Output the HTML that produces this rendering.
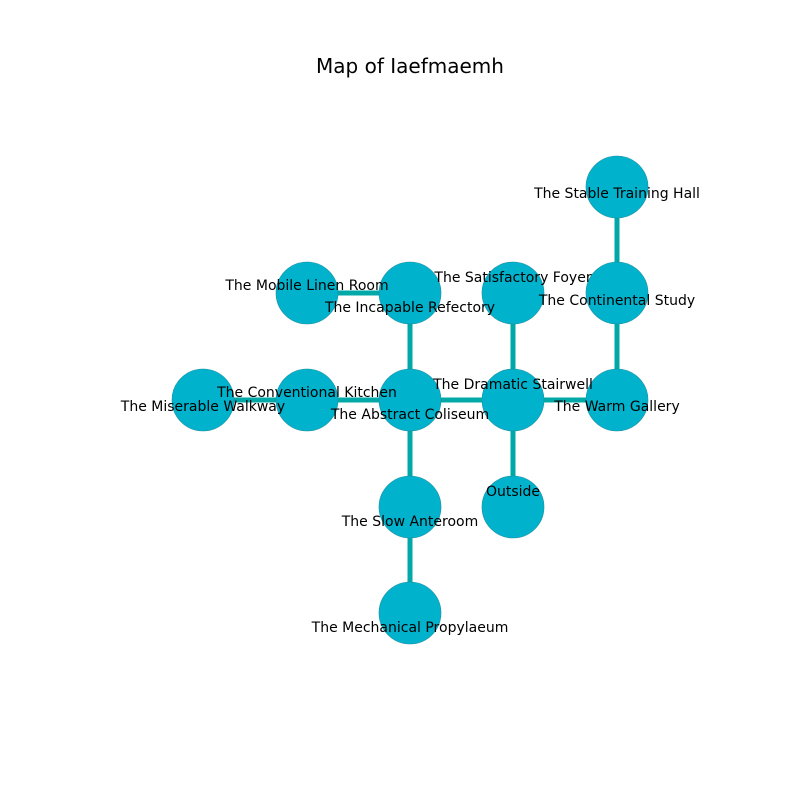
<!DOCTYPE html>
<html><head><style>body{margin:0;background:#fff}svg{display:block}</style></head><body>
<svg width="800" height="800" xmlns="http://www.w3.org/2000/svg" font-family="DejaVu Sans, sans-serif" font-size="14">
<rect width="800" height="800" fill="#fff"/>
<text x="410" y="73" font-size="20" text-anchor="middle">Map of Iaefmaemh</text>
<g stroke="#00a8a8" stroke-width="5">
<line x1="617" y1="187" x2="617" y2="293"/>
<line x1="617" y1="293" x2="617" y2="400"/>
<line x1="617" y1="400" x2="513" y2="400"/>
<line x1="513" y1="400" x2="513" y2="293"/>
<line x1="513" y1="400" x2="513" y2="507"/>
<line x1="513" y1="400" x2="410" y2="400"/>
<line x1="410" y1="400" x2="410" y2="293"/>
<line x1="410" y1="293" x2="307" y2="293"/>
<line x1="410" y1="400" x2="307" y2="400"/>
<line x1="307" y1="400" x2="203" y2="400"/>
<line x1="410" y1="400" x2="410" y2="507"/>
<line x1="410" y1="507" x2="410" y2="613"/>
</g>
<g fill="#00b2cc" stroke="#1a8fa0" stroke-width="0.6">
<circle cx="617" cy="187" r="31"/>
<circle cx="617" cy="293" r="31"/>
<circle cx="617" cy="400" r="31"/>
<circle cx="513" cy="293" r="31"/>
<circle cx="513" cy="400" r="31"/>
<circle cx="513" cy="507" r="31"/>
<circle cx="410" cy="293" r="31"/>
<circle cx="307" cy="293" r="31"/>
<circle cx="410" cy="400" r="31"/>
<circle cx="307" cy="400" r="31"/>
<circle cx="203" cy="400" r="31"/>
<circle cx="410" cy="507" r="31"/>
<circle cx="410" cy="613" r="31"/>
</g>
<g text-anchor="middle" fill="#000">
<text x="617" y="198">The Stable Training Hall</text>
<text x="617" y="305">The Continental Study</text>
<text x="617" y="411">The Warm Gallery</text>
<text x="513" y="282">The Satisfactory Foyer</text>
<text x="513" y="389">The Dramatic Stairwell</text>
<text x="513" y="496">Outside</text>
<text x="410" y="312">The Incapable Refectory</text>
<text x="307" y="290">The Mobile Linen Room</text>
<text x="410" y="419">The Abstract Coliseum</text>
<text x="307" y="397">The Conventional Kitchen</text>
<text x="203" y="411">The Miserable Walkway</text>
<text x="410" y="526">The Slow Anteroom</text>
<text x="410" y="632">The Mechanical Propylaeum</text>
</g>
</svg>
</body></html>
